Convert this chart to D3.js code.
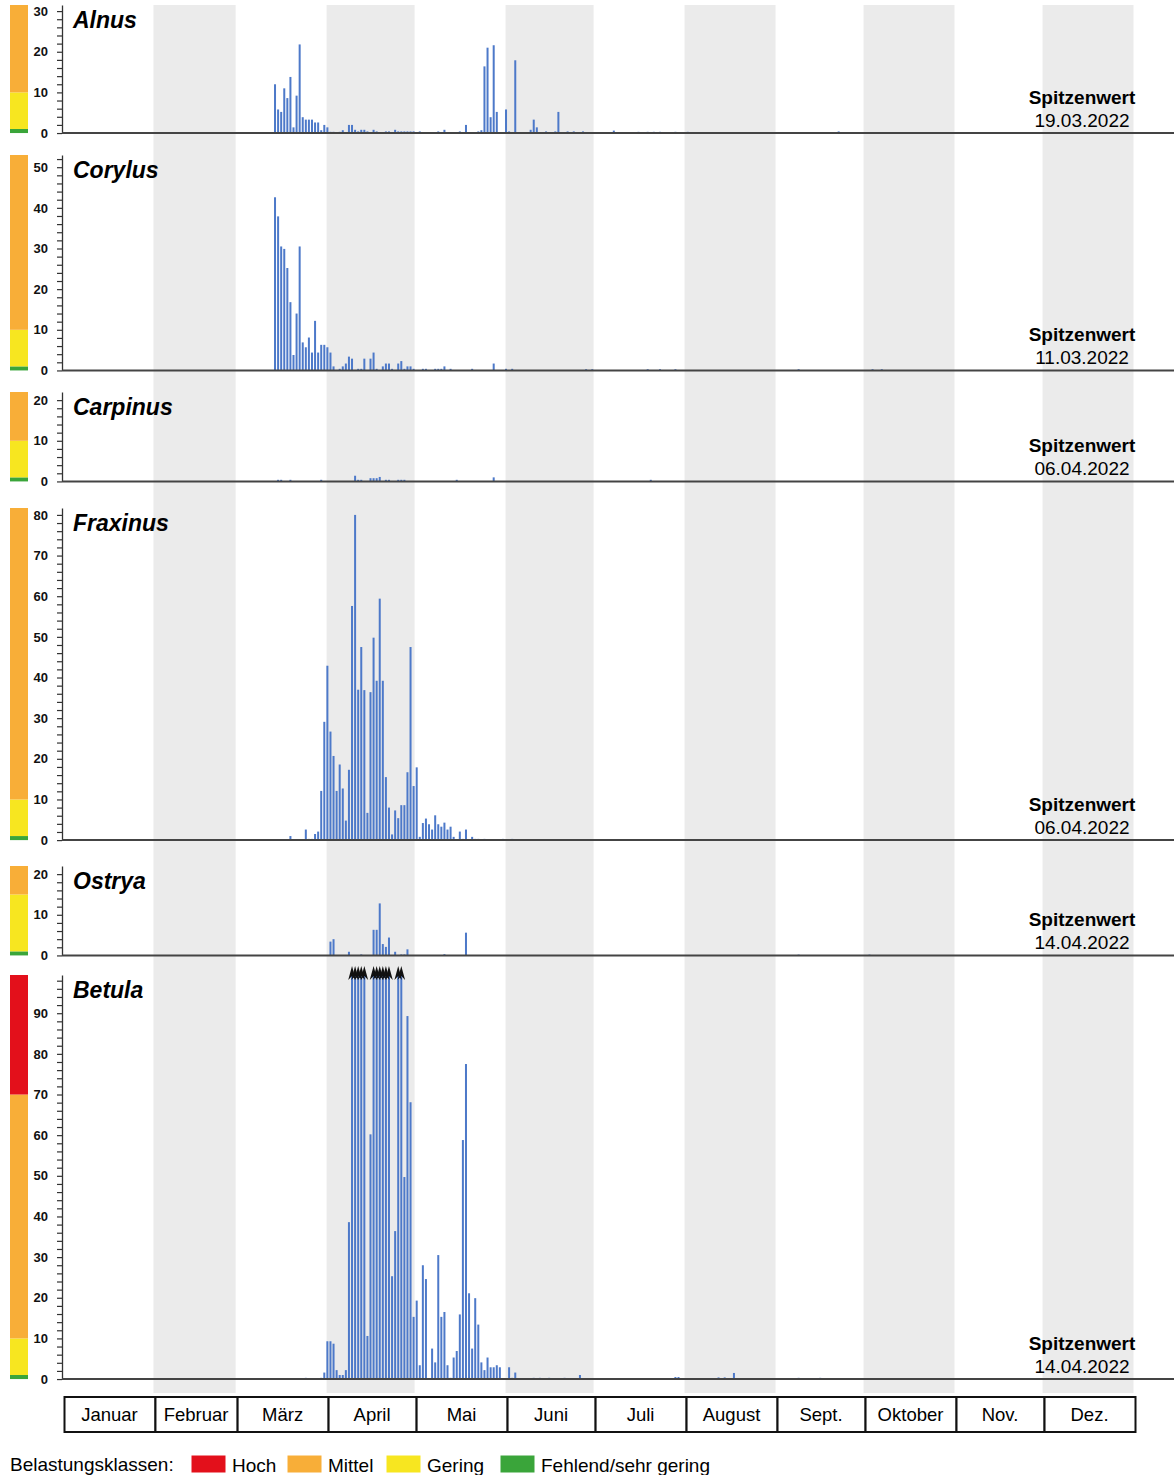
<!DOCTYPE html>
<html>
<head>
<meta charset="utf-8">
<script src="https://cdn.jsdelivr.net/npm/d3@7"></script>
<style>
  body { margin: 0; background: #fff; }
  svg { display: block; font-family: "Liberation Sans", Arial, sans-serif; }
</style>
</head>
<body>
<div id="chart"></div>
<script>
// ---- Daten (Tageswerte, Tag 0 = 1. Januar) ----
const months = ["Januar", "Februar", "März", "April", "Mai", "Juni", "Juli", "August", "Sept.", "Oktober", "Nov.", "Dez."];
const monthStarts = [0, 31, 59, 90, 120, 151, 181, 212, 243, 273, 304, 334, 365];
const taxa = ["Alnus", "Corylus", "Carpinus", "Fraxinus", "Ostrya", "Betula"];
const peakDates = ["19.03.2022", "11.03.2022", "06.04.2022", "06.04.2022", "14.04.2022", "14.04.2022"];
const axisMax = [31.5, 53, 22, 81.7, 22, 99.4];
// Klassengrenzen: Fehlend bis 1, Gering bis ..., Mittel bis ..., Hoch darüber
const classLimits = [[1, 10], [1, 10], [1, 10], [1, 10], [1, 15], [1, 10, 70]];
const classColors = ["#3aa53a", "#f7e620", "#f8ae38", "#e3101b"];
const legendLabels = ["Hoch", "Mittel", "Gering", "Fehlend/sehr gering"];

const alnusData = [[69,12.0],[70,5.8],[71,5.2],[72,11],[73,8.6],[74,13.8],[75,1.4],[76,9.2],[77,21.8],[78,3.9],
  [79,3.3],[80,3.3],[81,3.3],[82,2.6],[83,2.6],[84,0.7],[85,2.0],[86,1.4],[87,0.3],[88,0.3],[90,0.3],[91,0.7],
  [93,2.0],[94,2.0],[95,0.8],[96,0.4],[97,0.8],[98,0.8],[99,0.4],[101,0.8],[102,0.4],[105,0.4],[106,0.4],[108,0.8],
  [109,0.4],[110,0.4],[111,0.4],[112,0.4],[113,0.4],[114,0.4],[116,0.4],[122,0.4],[124,0.8],[129,0.4],[131,2.0],
  [135,0.4],[136,0.7],[137,16.4],[138,21],[139,3.9],[140,21.6],[141,5.2],[144,5.8],[145,0.4],[147,17.9],[152,0.8],
  [153,3.3],[154,1.4],[157,0.4],[160,0.4],[161,5.2],[164,0.4],[166,0.4],[169,0.4],[179,0.6],[187,0.3],[190,0.3],
  [192,0.3],[194,0.3],[199,0.3],[203,0.3],[252,0.4]];

const corylusData = [[69,42.6],[70,37.9],[71,30.5],[72,29.9],[73,25.2],[74,16.8],[75,3.8],[76,14],[77,30.5],[78,6.9],
  [79,5.7],[80,8.1],[81,4.4],[82,12.2],[83,4.4],[84,6.3],[85,6.3],[86,5.7],[87,4.4],[88,1.0],[90,0.4],[91,1.0],
  [92,1.7],[93,3.4],[94,2.9],[96,0.4],[97,0.4],[98,2.9],[100,2.9],[101,4.4],[102,0.4],[104,1.0],[105,1.7],[106,1.7],
  [107,0.4],[109,1.7],[110,2.3],[111,0.4],[112,1.0],[113,1.0],[114,0.4],[117,0.4],[118,0.4],[121,0.4],[122,0.4],
  [123,0.4],[124,1.0],[126,0.4],[133,0.4],[140,1.7],[144,0.4],[146,0.4],[170,0.3],[172,0.3],[190,0.3],[194,0.3],
  [199,0.3],[239,0.3],[263,0.3],[266,0.3]];

const carpinusData = [[70,0.4],[71,0.4],[74,0.4],[84,0.4],[95,1.4],[96,0.4],[97,0.4],[100,0.8],[101,0.8],[102,0.8],
  [103,1.1],[105,0.4],[106,0.4],[109,0.4],[110,0.4],[111,0.4],[128,0.4],[140,1.0],[191,0.4]];

const fraxinusData = [[74,1.0],[79,2.6],[80,0.3],[81,0.3],[82,1.5],[83,2.1],[84,12.1],[85,29.1],[86,42.9],[87,26.7],
  [88,20.7],[89,12.1],[90,18.6],[91,12.7],[92,4.8],[93,17.3],[94,57.6],[95,80.0],[96,37.0],[97,47.5],[98,36.9],
  [99,6.7],[100,36.4],[101,49.8],[102,39.2],[103,59.4],[104,39.2],[105,15.5],[106,8.0],[107,1.4],[108,7.3],[109,5.4],
  [110,8.6],[111,8.6],[112,16.7],[113,47.5],[114,13.3],[115,17.9],[116,0.8],[117,4.2],[118,5.3],[119,3.9],[120,2.6],
  [121,6.1],[122,3.9],[123,3.3],[124,4.3],[125,2.6],[126,3.3],[127,0.8],[129,2.1],[130,0.3],[131,2.6],[133,0.8],
  [134,0.3],[135,0.3],[137,0.3],[143,0.3],[146,0.3]];

const ostryaData = [[87,3.4],[88,4.0],[93,0.9],[97,0.25],[101,6.3],[102,6.3],[103,12.8],[104,2.8],[105,2.1],[106,4.4],
  [108,0.9],[110,0.25],[111,0.25],[112,1.5],[124,0.3],[131,5.6],[239,0.2],[262,0.2]];

// Werte über 99 sind im Bild abgeschnitten (Pfeile) – geschätzt
const betulaData = [[79,0.3],[84,0.3],[85,1.6],[86,9.3],[87,9.3],[88,8.7],[89,2.2],[90,1.0],[91,1.0],[92,2.2],[93,38.6],
  [94,120],[95,160],[96,140],[97,130],[98,110],[99,10.6],[100,60.2],[101,150],[102,170],[103,230],[104,180],[105,140],
  [106,120],[107,25.3],[108,36.4],[109,130],[110,115],[111,49.7],[112,89.3],[113,68.1],[114,15.3],[115,19.3],[116,3.4],
  [117,28.0],[118,24.6],[120,7.5],[121,4.1],[122,30.5],[123,15.3],[124,16.5],[125,3.4],[126,0.3],[127,5.3],[128,6.9],
  [129,15.9],[130,58.8],[131,77.5],[132,21.1],[133,7.5],[134,19.9],[135,13.4],[136,4.1],[137,2.2],[138,5.3],[139,2.9],
  [140,2.9],[141,3.4],[142,2.9],[145,2.9],[146,0.3],[147,1.6],[153,0.3],[155,0.3],[158,0.3],[163,0.3],[168,1.0],
  [199,0.5],[200,0.5],[213,0.4],[215,0.4],[218,1.5],[239,0.3],[246,0.3]];

const seriesData = [alnusData, corylusData, carpinusData, fraxinusData, ostryaData, betulaData];

(function () {
  const W = 1174, H = 1475;
  const pxPerUnit = 4.065;
  const panelTop = [5, 155, 392, 508, 866, 975];
  const axisX = 62;
  const bandBottom = 1393;

  const svg = d3.select("#chart").append("svg")
    .attr("width", W).attr("height", H);

  // Monatskästen / graue Bänder und Balken haben im Original unterschiedliche Skalen
  const xMonth = d3.scaleLinear().domain([0, 365]).range([62.5, 1133.5]);
  const xDay = d3.scaleLinear().domain([0, 365]).range([62.5, 62.5 + 365 * 3.08]);

  // ==== graue Monatsbänder ====
  svg.append("g").selectAll("rect")
    .data(d3.range(1, 12, 2))
    .join("rect")
      .attr("x", i => xMonth(monthStarts[i]))
      .attr("width", i => xMonth(monthStarts[i + 1]) - xMonth(monthStarts[i]))
      .attr("y", panelTop[0])
      .attr("height", bandBottom - panelTop[0])
      .attr("fill", "#ebebeb");

  // ==== Panels ====
  taxa.forEach((name, p) => {
    const top = panelTop[p];
    const max = axisMax[p];
    const base = top + max * pxPerUnit;
    const y = d3.scaleLinear().domain([0, max]).range([base, top]);
    const g = svg.append("g");

    // Belastungsklassen-Balken links
    const limits = [0, ...classLimits[p], max];
    g.selectAll(".cls")
      .data(d3.range(limits.length - 1))
      .join("rect")
        .attr("x", 10).attr("width", 18)
        .attr("y", i => y(limits[i + 1]))
        .attr("height", i => y(limits[i]) - y(limits[i + 1]))
        .attr("fill", i => classColors[i]);

    // Balken
    const data = seriesData[p];
    g.selectAll(".bar")
      .data(data)
      .join("rect")
        .attr("x", d => xDay(d[0]) - 1)
        .attr("width", 2)
        .attr("y", d => y(Math.min(d[1], max)))
        .attr("height", d => base - y(Math.min(d[1], max)))
        .attr("fill", "#4d79c9");

    // Pfeile für abgeschnittene Werte
    const arrow = d => {
      const cx = xDay(d[0]), t = y(max);
      return `M${cx},${t - 9} L${cx + 3.8},${t + 5} L${cx},${t + 1} L${cx - 3.8},${t + 5} Z`;
    };
    g.selectAll(".arrow")
      .data(data.filter(d => d[1] > max))
      .join("path")
        .attr("d", arrow)
        .attr("fill", "#111");

    // y-Achse
    const axis = g.append("g")
      .attr("transform", `translate(${axisX},0)`)
      .call(d3.axisLeft(y)
        .tickValues(d3.range(0, max, 2))
        .tickSize(5)
        .tickSizeOuter(0)
        .tickPadding(9)
        .tickFormat(d => d % 10 === 0 ? d : ""));
    axis.select(".domain").attr("stroke", "#333").attr("stroke-width", 1.3);
    axis.selectAll(".tick line").attr("stroke", "#333").attr("stroke-width", 1.2);
    axis.selectAll(".tick text")
      .attr("fill", "#111")
      .style("font-size", "13px")
      .style("font-weight", "bold")
      .style("font-family", "'Liberation Sans', Arial, sans-serif");

    // Grundlinie
    g.append("line")
      .attr("x1", axisX).attr("x2", W)
      .attr("y1", base).attr("y2", base)
      .attr("stroke", "#444").attr("stroke-width", 2);

    // Titel
    g.append("text")
      .attr("x", 73).attr("y", top + 23)
      .style("font-size", "23px")
      .style("font-weight", "bold")
      .style("font-style", "italic")
      .text(name);

    // Spitzenwert
    g.append("text")
      .attr("x", 1082).attr("y", base - 29)
      .attr("text-anchor", "middle")
      .style("font-size", "19px").style("font-weight", "bold")
      .text("Spitzenwert");
    g.append("text")
      .attr("x", 1082).attr("y", base - 6)
      .attr("text-anchor", "middle")
      .style("font-size", "19px")
      .text(peakDates[p]);
  });

  // ==== Monatskästen ====
  const mg = svg.append("g");
  mg.selectAll("rect")
    .data(months)
    .join("rect")
      .attr("x", (d, i) => xMonth(monthStarts[i]) + 2)
      .attr("width", (d, i) => xMonth(monthStarts[i + 1]) - xMonth(monthStarts[i]))
      .attr("y", 1397)
      .attr("height", 35)
      .attr("fill", "#fff")
      .attr("stroke", "#111")
      .attr("stroke-width", 2);
  mg.selectAll("text")
    .data(months)
    .join("text")
      .attr("x", (d, i) => (xMonth(monthStarts[i]) + xMonth(monthStarts[i + 1])) / 2 + 1.5)
      .attr("y", 1421)
      .attr("text-anchor", "middle")
      .style("font-size", "18.5px")
      .text(d => d);

  // ==== Legende ====
  const lg = svg.append("g");
  lg.append("text")
    .attr("x", 10).attr("y", 1471)
    .style("font-size", "19px")
    .text("Belastungsklassen:");
  const legendX = [191, 287, 386, 500];
  const legendCol = [classColors[3], classColors[2], classColors[1], classColors[0]];
  lg.selectAll("rect")
    .data(legendLabels)
    .join("rect")
      .attr("x", (d, i) => legendX[i])
      .attr("y", 1455)
      .attr("width", 35).attr("height", 18)
      .attr("fill", (d, i) => legendCol[i])
      .attr("stroke", "#fff").attr("stroke-width", 1);
  lg.selectAll("text.lab")
    .data(legendLabels)
    .join("text")
      .attr("class", "lab")
      .attr("x", (d, i) => legendX[i] + 41)
      .attr("y", 1472)
      .style("font-size", "19px")
      .text(d => d);
})();
</script>
</body>
</html>
